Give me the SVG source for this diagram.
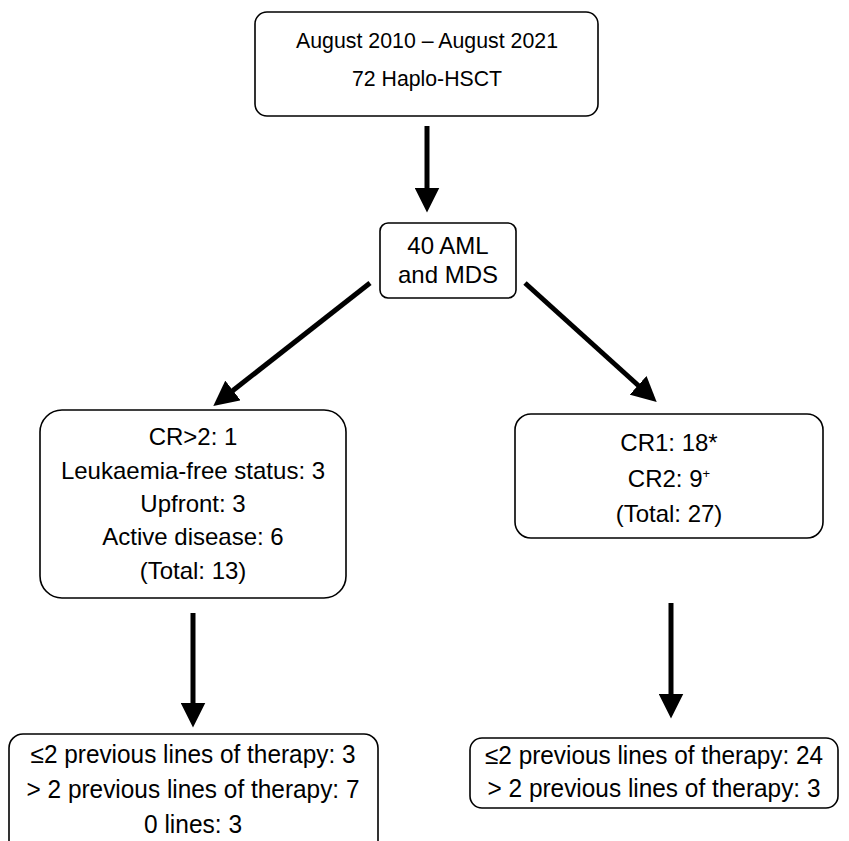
<svg xmlns="http://www.w3.org/2000/svg" width="849" height="841" viewBox="0 0 849 841">
<defs>
<style>
.box{fill:#fff;stroke:#000;stroke-width:1.6}
.t{font-family:"Liberation Sans",Arial,sans-serif;font-size:22px;fill:#000;text-anchor:middle}
.m{font-family:"Liberation Sans",Arial,sans-serif;font-size:24px;fill:#000;text-anchor:middle}
.b{font-family:"Liberation Sans",Arial,sans-serif;font-size:25px;fill:#000;text-anchor:middle}
.c{stroke:#000;stroke-width:5;fill:none}
</style>
<marker id="ah" markerWidth="5" markerHeight="5" refX="0.5" refY="2.5" orient="auto" markerUnits="strokeWidth" viewBox="0 0 5 5">
<path d="M0,0 L5,2.5 L0,5 z" fill="#000"/>
</marker>
</defs>
<rect width="849" height="841" fill="#fff"/>
<g id="connectors">
<line class="c" x1="427" y1="126" x2="427" y2="190" marker-end="url(#ah)"/>
<line class="c" x1="370" y1="283" x2="231" y2="392" marker-end="url(#ah)"/>
<line class="c" x1="525" y1="283" x2="640" y2="387" marker-end="url(#ah)"/>
<line class="c" x1="193" y1="613" x2="193" y2="705" marker-end="url(#ah)"/>
<line class="c" x1="671" y1="603" x2="671" y2="696" marker-end="url(#ah)"/>
</g>
<g id="n1">
<rect class="box" x="255" y="12" width="343" height="104" rx="12"/>
<text class="t" x="427" y="48" textLength="262" lengthAdjust="spacingAndGlyphs">August 2010 – August 2021</text>
<text class="t" x="427" y="86" textLength="150" lengthAdjust="spacingAndGlyphs">72 Haplo-HSCT</text>
</g>
<g id="n2">
<rect class="box" x="380" y="223" width="136" height="75" rx="8"/>
<text class="m" x="448" y="254">40 AML</text>
<text class="m" x="448" y="283">and MDS</text>
</g>
<g id="n3">
<rect class="box" x="40" y="410" width="306" height="188" rx="22"/>
<text class="m" x="193" y="445">CR&gt;2: 1</text>
<text class="m" x="193" y="479">Leukaemia-free status: 3</text>
<text class="m" x="193" y="512">Upfront: 3</text>
<text class="m" x="193" y="545">Active disease: 6</text>
<text class="m" x="193" y="579">(Total: 13)</text>
</g>
<g id="n4">
<rect class="box" x="515" y="414" width="308" height="124" rx="16"/>
<text class="m" x="669" y="451">CR1: 18*</text>
<text class="m" x="669" y="487">CR2: 9<tspan font-size="13" dy="-9">+</tspan></text>
<text class="m" x="669" y="522">(Total: 27)</text>
</g>
<g id="n5">
<rect class="box" x="9" y="734" width="369" height="130" rx="14"/>
<text class="b" x="193" y="763" textLength="325" lengthAdjust="spacingAndGlyphs">≤2 previous lines of therapy: 3</text>
<text class="b" x="193" y="798" textLength="333" lengthAdjust="spacingAndGlyphs">&gt; 2 previous lines of therapy: 7</text>
<text class="b" x="193" y="833" textLength="98" lengthAdjust="spacingAndGlyphs">0 lines: 3</text>
</g>
<g id="n6">
<rect class="box" x="470" y="738" width="368" height="70" rx="12"/>
<text class="b" x="654" y="764" textLength="338" lengthAdjust="spacingAndGlyphs">≤2 previous lines of therapy: 24</text>
<text class="b" x="654" y="797" textLength="333" lengthAdjust="spacingAndGlyphs">&gt; 2 previous lines of therapy: 3</text>
</g>
</svg>
